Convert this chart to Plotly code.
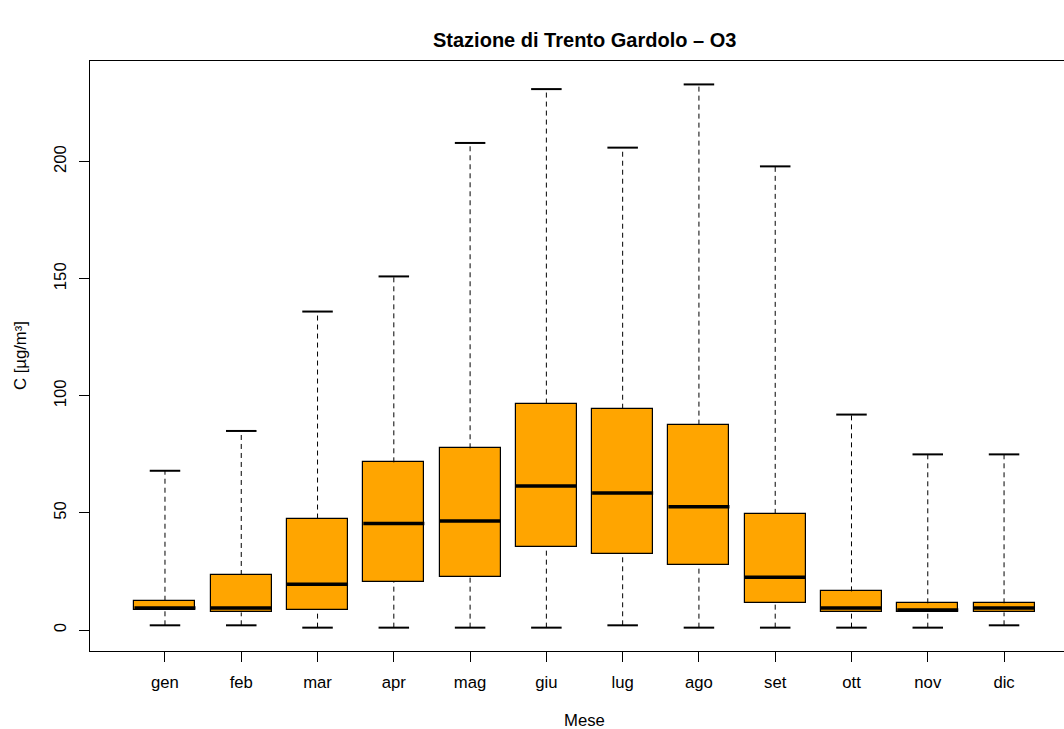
import plotly.graph_objects as go

months = ["gen", "feb", "mar", "apr", "mag", "giu", "lug", "ago", "set", "ott", "nov", "dic"]
lower = [2, 2, 1, 1, 1, 1, 2, 1, 1, 1, 1, 2]
q1 = [8.5, 7.5, 8.5, 20.6, 22.5, 35.5, 32.5, 27.6, 11.4, 7.5, 7.5, 7.5]
median = [9.4, 9.4, 19.5, 45.5, 46.5, 61.5, 58.5, 52.6, 22.5, 9.4, 8.5, 9.4]
q3 = [12.5, 23.5, 47.6, 71.6, 77.6, 96.7, 94.5, 87.7, 49.6, 16.5, 11.4, 11.4]
upper = [68, 85, 136, 151, 208, 231, 206, 233, 198, 92, 75, 75]

pos = list(range(1, len(months) + 1))
BOXW = 0.8
CAPW = 0.4
FONT = "Liberation Sans, Arial, Helvetica, sans-serif"

fig = go.Figure()

# whiskers (dashed)
wx, wy = [], []
for p, lo, a, b, hi in zip(pos, lower, q1, q3, upper):
    wx += [p, p, None, p, p, None]
    wy += [b, hi, None, lo, a, None]
fig.add_trace(go.Scatter(x=wx, y=wy, mode="lines",
                         line=dict(color="black", width=1, dash="5px,4px"),
                         hoverinfo="skip", showlegend=False))

# boxes
fig.add_trace(go.Bar(x=pos, y=[b - a for a, b in zip(q1, q3)], base=q1, width=BOXW,
                     marker=dict(color="#FFA500", line=dict(color="black", width=1.2)),
                     showlegend=False))

# medians
mx, my = [], []
for p, m in zip(pos, median):
    mx += [p - BOXW / 2, p + BOXW / 2, None]
    my += [m, m, None]
fig.add_trace(go.Scatter(x=mx, y=my, mode="lines", line=dict(color="black", width=3.5),
                         hoverinfo="skip", showlegend=False))

# staples
cx, cy = [], []
for p, lo, hi in zip(pos, lower, upper):
    cx += [p - CAPW / 2, p + CAPW / 2, None, p - CAPW / 2, p + CAPW / 2, None]
    cy += [lo, lo, None, hi, hi, None]
fig.add_trace(go.Scatter(x=cx, y=cy, mode="lines", line=dict(color="black", width=2),
                         hoverinfo="skip", showlegend=False))

fig.update_layout(
    width=1064, height=729,
    margin=dict(l=90, r=0, t=61, b=78),
    paper_bgcolor="white", plot_bgcolor="white",
    font=dict(family=FONT, size=16.7, color="black"),
    bargap=0,
    showlegend=False,
    xaxis=dict(range=[0.017, 12.786], tickvals=pos, ticktext=months,
               showgrid=False, zeroline=False, showline=True, linecolor="black", linewidth=1,
               mirror=True, ticks="outside", ticklen=10, tickcolor="black",
               tickfont=dict(size=16.7), ticklabelstandoff=6),
    yaxis=dict(range=[-8.97, 243.0], tickvals=[0, 50, 100, 150, 200],
               showgrid=False, zeroline=False, showline=True, linecolor="black", linewidth=1,
               mirror=False, ticks="outside", ticklen=10, tickcolor="black",
               tickangle=-90, tickfont=dict(size=16.7), ticklabelstandoff=6),
    annotations=[
        dict(text="<b>Stazione di Trento Gardolo – O3</b>", xref="x", yref="paper",
             x=6.5, y=1, yshift=21, xanchor="center", yanchor="middle",
             showarrow=False, font=dict(size=20)),
        dict(text="Mese", xref="x", yref="paper", x=6.5, y=0, yshift=-69,
             xanchor="center", yanchor="middle", showarrow=False, font=dict(size=16.7)),
        dict(text="C [µg/m³]", xref="paper", yref="paper", x=0, y=0.5, xshift=-70,
             xanchor="center", yanchor="middle", textangle=-90, showarrow=False,
             font=dict(size=16.7)),
    ],
)

fig.write_html("out.html", config={"displayModeBar": False},
               post_script="document.body.style.margin='0';")
